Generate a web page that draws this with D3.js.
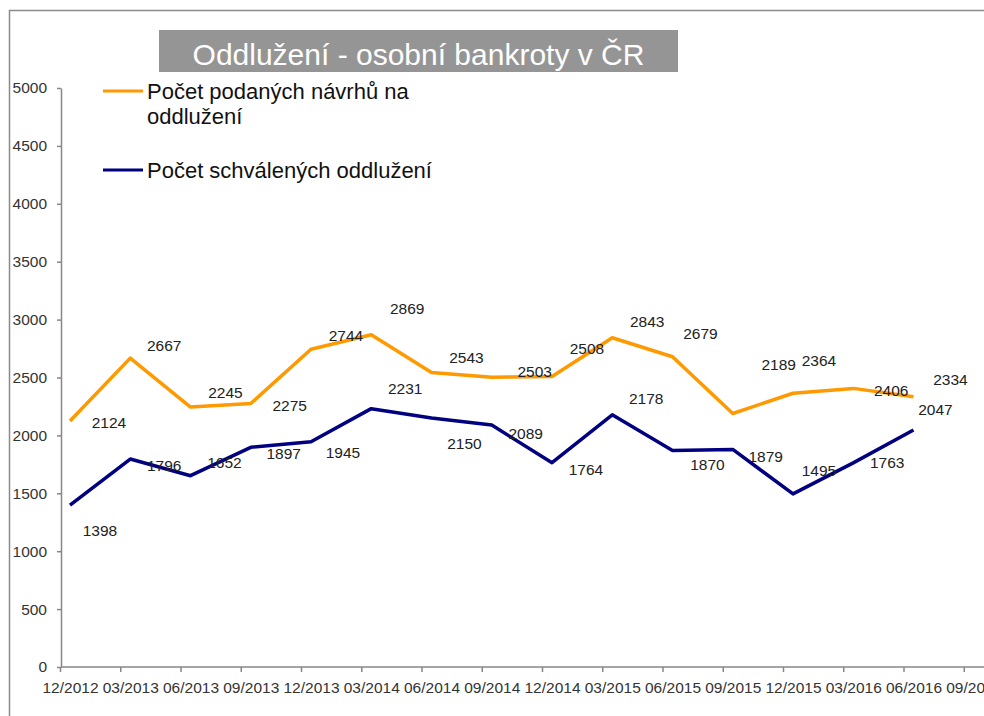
<!DOCTYPE html>
<html>
<head>
<meta charset="utf-8">
<script src="https://cdn.jsdelivr.net/npm/d3@7"></script>
<style>
body { margin: 0; background: #fff; }
text { font-family: "Liberation Sans", Arial, sans-serif; }
</style>
</head>
<body>
<div id="chart"></div>
<script>
// data
var quarters = ["12/2012", "03/2013", "06/2013", "09/2013", "12/2013", "03/2014", "06/2014", "09/2014",
                "12/2014", "03/2015", "06/2015", "09/2015", "12/2015", "03/2016", "06/2016", "09/2016"];
var filed = [2124, 2667, 2245, 2275, 2744, 2869, 2543, 2503, 2508, 2843, 2679, 2189, 2364, 2406, 2334];
var approved = [1398, 1796, 1652, 1897, 1945, 2231, 2150, 2089, 1764, 2178, 1870, 1879, 1495, 1763, 2047];
var yTicks = [0, 500, 1000, 1500, 2000, 2500, 3000, 3500, 4000, 4500, 5000];
var titleText = "Oddlužení - osobní bankroty v ČR";
var legendFiled = ["Počet podaných návrhů na", "oddlužení"];
var legendApproved = ["Počet schválených oddlužení"];

// label nudges (dx, dy) so the value labels sit where the original put them
var filedNudge = [[39,2],[34,-13],[35,-14],[39,2],[35,-14],[36,-26],[35,-15],[43,-6],[35,-28],[35,-16],[28,-23],[46,-49],[26,-33],[38,2],[37,-17]];
var approvedNudge = [[30,25],[34,7],[34,-13],[33,6],[32,11],[34,-20],[33,26],[34,8],[34,7],[34,-16],[35,14],[33,7],[26,-23],[34,0],[22,-20]];

var width = 984, height = 716;
var axisColor = "#878787";

var svg = d3.select("#chart").append("svg")
    .attr("width", width)
    .attr("height", height);

// outer frame (top and left edges visible)
svg.append("path")
    .attr("d", "M9.5," + height + "V10.5H" + width)
    .attr("fill", "none")
    .attr("stroke", "#8a8a8a")
    .attr("stroke-width", 1.5);

var x = d3.scalePoint()
    .domain(quarters)
    .range([70, 70 + 60.25 * (quarters.length - 1)]);
var y = d3.scaleLinear()
    .domain([0, 5000])
    .range([667, 88]);
var axisX0 = 61;

// title box
svg.append("rect")
    .attr("x", 159).attr("y", 30)
    .attr("width", 519).attr("height", 42)
    .attr("fill", "#959595");
svg.append("text")
    .attr("x", 418.5).attr("y", 65)
    .attr("text-anchor", "middle")
    .attr("fill", "#fff")
    .attr("font-size", 30)
    .text(titleText);

// y axis
var yAxis = d3.axisLeft(y)
    .tickValues(yTicks)
    .tickSize(4)
    .tickSizeOuter(0)
    .tickPadding(10)
    .tickFormat(d3.format("d"));
var gy = svg.append("g")
    .attr("transform", "translate(" + axisX0 + ",0)")
    .call(yAxis);
gy.select(".domain").attr("stroke", axisColor).attr("stroke-width", 1.5);
gy.selectAll(".tick line").attr("stroke", axisColor).attr("stroke-width", 1.5);
gy.selectAll(".tick text")
    .attr("fill", "#333")
    .attr("font-size", 15.5)
    .attr("font-family", "'Liberation Sans', Arial, sans-serif");

// x axis: labels under the points, tick marks a little to the left
var xAxis = d3.axisBottom(x)
    .tickSize(0)
    .tickPadding(15);
var gx = svg.append("g")
    .attr("transform", "translate(0," + y(0) + ")")
    .call(xAxis);
gx.select(".domain").remove();
gx.append("line")
    .attr("x1", axisX0).attr("x2", width)
    .attr("stroke", axisColor).attr("stroke-width", 1.5);
gx.selectAll(".tick").append("line")
    .attr("x1", -10).attr("x2", -10)
    .attr("y1", 0).attr("y2", 5)
    .attr("stroke", axisColor).attr("stroke-width", 1.5);
gx.selectAll(".tick text")
    .attr("fill", "#333")
    .attr("font-size", 15.5)
    .attr("font-family", "'Liberation Sans', Arial, sans-serif");

// series
var series = [
    {values: filed, color: "#ff9900", nudge: filedNudge},
    {values: approved, color: "#000080", nudge: approvedNudge}
];

var line = d3.line()
    .x(function(d, i) { return x(quarters[i]); })
    .y(function(d) { return y(d); });

series.forEach(function(s) {
    svg.append("path")
        .datum(s.values)
        .attr("d", line)
        .attr("fill", "none")
        .attr("stroke", s.color)
        .attr("stroke-width", 3.5)
        .attr("stroke-linejoin", "round");
});

series.forEach(function(s) {
    svg.append("g").selectAll("text")
        .data(s.values)
        .enter()
        .append("text")
        .attr("x", function(d, i) { return x(quarters[i]) + s.nudge[i][0]; })
        .attr("y", function(d, i) { return y(d) + s.nudge[i][1]; })
        .attr("dy", "0.35em")
        .attr("text-anchor", "middle")
        .attr("font-size", 15.5)
        .attr("fill", "#222")
        .text(function(d) { return d; });
});

// legend
var legend = svg.append("g");
var legendItems = [
    {lines: legendFiled, color: "#ff9900", y: 91},
    {lines: legendApproved, color: "#000080", y: 170}
];
legendItems.forEach(function(item) {
    legend.append("line")
        .attr("x1", 103).attr("x2", 143)
        .attr("y1", item.y).attr("y2", item.y)
        .attr("stroke", item.color)
        .attr("stroke-width", 3);
    item.lines.forEach(function(t, j) {
        legend.append("text")
            .attr("x", 147)
            .attr("y", item.y + 8 + j * 25)
            .attr("font-size", 22)
            .attr("fill", "#111")
            .text(t);
    });
});
</script>
</body>
</html>
